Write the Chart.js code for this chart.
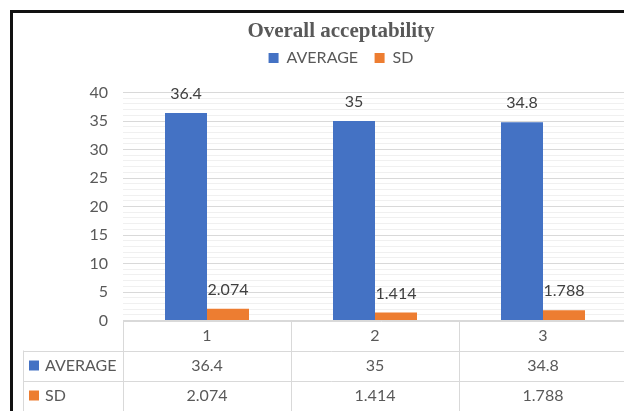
<!DOCTYPE html>
<html>
<head>
<meta charset="utf-8">
<title>Overall acceptability</title>
<script src="https://cdn.jsdelivr.net/npm/chart.js@4.4.1/dist/chart.umd.min.js"></script>
<style>
    html, body { margin: 0; padding: 0; background: #fff; overflow: hidden; }
    #wrap { position: absolute; left: 0; top: 0; width: 640px; height: 411px; }
</style>
</head>
<body>
<div id="wrap"><canvas id="accChart" width="640" height="411"></canvas></div>
<script>
// ---------------- data ----------------
const categories = ["1", "2", "3"];
const averageValues = [36.4, 35, 34.8];
const sdValues = [2.074, 1.414, 1.788];
const yMax = 40;
const yMajorStep = 5;

const BLUE = "#4472C4";
const ORANGE = "#ED7D31";
const TEXT = "#595959";
const LINE = "#D9D9D9";
const FONT = "Lato, 'Open Sans', sans-serif";

// ---------------- frame + data table under the plot ----------------
const tablePlugin = {
    id: "tablePlugin",
    beforeLayout(chart) {
        // leave some air between the legend and the plot, like Excel does
        const legend = chart.legend;
        if (legend && !legend._extraGap) {
            const fit = legend.fit;
            legend.fit = function () {
                fit.call(this);
                this.height += 16.5;
            };
            legend._extraGap = true;
        }
    },
    beforeDraw(chart) {
        const ctx = chart.ctx;
        ctx.save();
        ctx.fillStyle = "#fff";
        ctx.fillRect(0, 0, chart.width, chart.height);
        ctx.restore();
    },
    afterDraw(chart) {
        const ctx = chart.ctx;
        const area = chart.chartArea;
        const x = chart.scales.x;
        const step = (area.right - area.left) / categories.length;
        const rowTop = [area.bottom, area.bottom + 30, area.bottom + 60];
        const bottom = chart.height + 2;
        const tableLeft = 23.5;

        ctx.save();
        ctx.strokeStyle = LINE;
        ctx.lineWidth = 1;
        ctx.beginPath();
        // axis line / header row top
        ctx.moveTo(area.left, Math.round(rowTop[0]) + 0.5);
        ctx.lineTo(chart.width, Math.round(rowTop[0]) + 0.5);
        // row separators
        for (let r = 1; r < rowTop.length; r++) {
            ctx.moveTo(tableLeft, Math.round(rowTop[r]) + 0.5);
            ctx.lineTo(chart.width, Math.round(rowTop[r]) + 0.5);
        }
        // column separators
        for (let i = 0; i <= categories.length; i++) {
            const cx = Math.round(area.left + i * step) + 0.5;
            ctx.moveTo(cx, rowTop[0]);
            ctx.lineTo(cx, bottom);
        }
        ctx.moveTo(tableLeft, rowTop[1]);
        ctx.lineTo(tableLeft, bottom);
        ctx.stroke();

        ctx.font = "16px " + FONT;
        ctx.fillStyle = TEXT;
        ctx.textAlign = "center";
        ctx.textBaseline = "middle";
        categories.forEach((c, i) => {
            const cx = x.getPixelForValue(i);
            ctx.fillText(c, cx, rowTop[0] + 15);
            ctx.fillText(String(averageValues[i]), cx, rowTop[1] + 15);
            ctx.fillText(String(sdValues[i]), cx, rowTop[2] + 15);
        });

        // row headers
        const series = chart.data.datasets;
        series.forEach((ds, r) => {
            const cy = rowTop[r + 1] + 15;
            ctx.fillStyle = ds.backgroundColor;
            ctx.fillRect(29, cy - 5, 10, 10);
            ctx.fillStyle = TEXT;
            ctx.textAlign = "left";
            ctx.fillText(ds.label, 45, cy);
        });

        // outer frame (left and top edges visible)
        ctx.fillStyle = "#111";
        ctx.fillRect(10, 10, 3, chart.height);
        ctx.fillRect(10, 10, chart.width, 3);
        ctx.restore();
    },
};

// ---------------- value labels ----------------
function drawLabels(chart, dsIndex) {
    const ctx = chart.ctx;
    const meta = chart.getDatasetMeta(dsIndex);
    const values = chart.data.datasets[dsIndex].data;
    ctx.save();
    ctx.font = "16px " + FONT;
    ctx.fillStyle = "#404040";
    ctx.textAlign = "center";
    ctx.textBaseline = "middle";
    meta.data.forEach((bar, i) => {
        ctx.fillText(String(values[i]), bar.x, bar.y - 19);
    });
    ctx.restore();
}

const labelPlugin = {
    id: "labelPlugin",
    // SD labels go under the bars, the way the original overlaps them
    beforeDatasetsDraw(chart) {
        drawLabels(chart, 1);
    },
    afterDatasetsDraw(chart) {
        drawLabels(chart, 0);
    },
};

new Chart(document.getElementById("accChart"), {
    type: "bar",
    data: {
        labels: categories,
        datasets: [
            {
                label: "AVERAGE",
                data: averageValues,
                backgroundColor: BLUE,
                categoryPercentage: 0.5,
                barPercentage: 1.0,
            },
            {
                label: "SD",
                data: sdValues,
                backgroundColor: ORANGE,
                categoryPercentage: 0.5,
                barPercentage: 1.0,
            },
        ],
    },
    options: {
        responsive: false,
        animation: false,
        devicePixelRatio: 1,
        layout: {
            padding: { top: 8, left: 55, right: 13, bottom: 90.5 },
        },
        plugins: {
            title: {
                display: true,
                text: "Overall acceptability",
                color: TEXT,
                font: { family: "'Liberation Serif', 'Times New Roman', serif", size: 21, weight: "bold", lineHeight: 1 },
                padding: { top: 13.5, bottom: -9 },
            },
            legend: {
                position: "top",
                labels: {
                    color: TEXT,
                    boxWidth: 10,
                    boxHeight: 10,
                    padding: 16.5,
                    font: { family: FONT, size: 16 },
                },
            },
            tooltip: { enabled: false },
        },
        scales: {
            x: {
                display: false,
                offset: true,
            },
            y: {
                min: 0,
                max: yMax,
                afterFit: (scale) => {
                    scale.width = 68;
                },
                border: { display: false },
                grid: {
                    drawTicks: false,
                    color: (c) => (c.tick && c.tick.value % yMajorStep === 0 ? LINE : "#F0F0F0"),
                },
                ticks: {
                    stepSize: 1,
                    autoSkip: false,
                    padding: 15,
                    color: TEXT,
                    font: { family: FONT, size: 16 },
                    callback: (v) => (v % yMajorStep === 0 ? v : ""),
                },
            },
        },
    },
    plugins: [tablePlugin, labelPlugin],
});
</script>
</body>
</html>
